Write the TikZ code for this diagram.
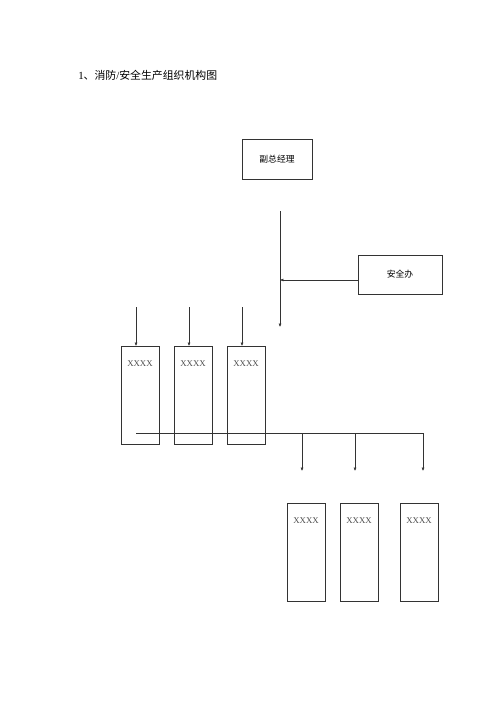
\documentclass[tikz,border=0pt]{standalone}
\usepackage{fontspec}
\setmainfont{Liberation Serif}
\newfontfamily\cjk{Noto Sans CJK SC}
\usetikzlibrary{arrows.meta}

\begin{document}
\begin{tikzpicture}[
    x=0.42mm, y=-0.42mm,
    line width=0.6pt,
    post/.style={draw=black!80, minimum width=29.4mm, minimum height=16.8mm,
      inner sep=0pt, font=\cjk\fontsize{10.5}{12}\selectfont},
    unit/.style={draw=black!80, anchor=north, minimum width=16mm, inner sep=0pt,
      text height=8.6mm, text depth=32.5mm, text=black!70,
      font=\fontsize{10.5}{12}\selectfont},
    link/.style={draw=black!80},
    feed/.style={draw=black!80, -{Latex[length=4pt,width=3.5pt]}},
  ]
    \useasboundingbox (0,0) rectangle (500,707);

    \node[anchor=west, inner sep=0pt, font=\fontsize{13}{15}\selectfont] (title) at (78,75)
      {1{\cjk 、消防}/{\cjk 安全生产组织机构图}};

    % management
    \node[post] (deputy) at (277,159) {副总经理};
    \node[post, minimum width=35.3mm, minimum height=16.4mm] (safety) at (400,274.5) {安全办};

    \coordinate (trunktop) at (280,211);
    \coordinate (trunkend) at (280,327);
    \coordinate (join) at (280,280);
    \draw[feed] (trunktop) -- (trunkend);
    \draw[feed] (safety.west |- join) -- (join);

    % upper units
    \node[unit] (up1) at (140,346) {XXXX};
    \node[unit] (up2) at (193,346) {XXXX};
    \node[unit] (up3) at (246,346) {XXXX};
    \foreach \n/\x in {1/136, 2/189, 3/242} {
      \coordinate (in\n) at (\x,307);
      \draw[feed] (in\n) -- (in\n |- up\n.north);
    }

    % lower units
    \node[unit] (low1) at (306,503) {XXXX};
    \node[unit] (low2) at (359,503) {XXXX};
    \node[unit] (low3) at (419,503) {XXXX};

    \coordinate (busL) at (136,433);
    \coordinate (busR) at (423,433);
    \draw[link] (busL) -- (busR);
    \foreach \n/\x in {1/302, 2/355, 3/423} {
      \coordinate (tap\n) at (\x,433);
      \coordinate (out\n) at (\x,471);
      \draw[feed] (tap\n) -- (out\n);
    }
\end{tikzpicture}
\end{document}
